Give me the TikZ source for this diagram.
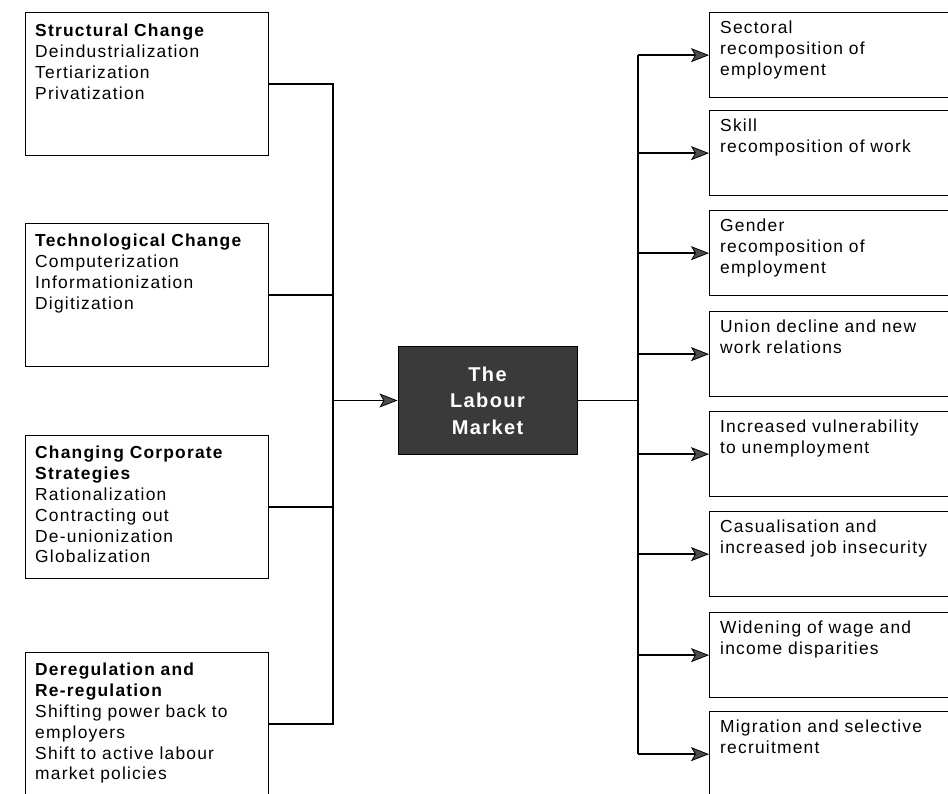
\documentclass[tikz,border=0pt]{standalone}
\usepackage{fontspec}
\setmainfont{Liberation Sans}[LetterSpace=7]
\usetikzlibrary{arrows.meta}
\definecolor{boxgray}{HTML}{3A3A3A}
\tikzset{
  lbox/.style={draw=black, line width=1.3pt, anchor=north west, inner sep=0pt, minimum width=243pt, minimum height=143pt},
  rbox/.style={draw=black, line width=1.3pt, anchor=north west, inner sep=0pt, minimum width=260pt, minimum height=85pt},
  btext/.style={anchor=north west, inner sep=0pt, align=left, text width=235pt, font=\fontsize{17.4pt}{20.8pt}\selectfont},
  cbox/.style={fill=boxgray, draw=black, line width=1pt, minimum width=179pt, minimum height=107pt, inner sep=0pt, align=center, text=white, font=\fontsize{20pt}{26.5pt}\selectfont\bfseries},
  conn/.style={line width=1.6pt},
  arr/.style={line width=1.6pt, -{Stealth[length=18pt, width=14pt, inset=4pt, line width=0.8pt, fill=black!70]}}
}
\begin{document}
\begin{tikzpicture}[x=1pt,y=1pt]
\useasboundingbox (0,0) rectangle (948,-794);
\clip (0,0) rectangle (948,-794);
% left boxes
\node[lbox] (s1) at (25,-12) {};
\node[btext] (s1t) at (35,-24) {\textbf{Structural Change}\\Deindustrialization\\Tertiarization\\Privatization};
\node[lbox] (s2) at (25,-223) {};
\node[btext] (s2t) at (35,-234) {\textbf{Technological Change}\\Computerization\\Informationization\\Digitization};
\node[lbox] (s3) at (25,-435) {};
\node[btext] (s3t) at (35,-446) {\textbf{Changing Corporate}\\\textbf{Strategies}\\Rationalization\\Contracting out\\De-unionization\\Globalization};
\node[lbox] (s4) at (25,-652) {};
\node[btext] (s4t) at (35,-663) {\textbf{Deregulation and}\\\textbf{Re-regulation}\\Shifting power back to\\employers\\Shift to active labour\\market policies};
% centre
\node[cbox] (lm) at (487.5,-400.5) {The\\Labour\\Market};
% right boxes
\node[rbox] (r1) at (709,-12) {};
\node[btext] (r1t) at (720,-21) {Sectoral\\recomposition of\\employment};
\node[rbox] (r2) at (709,-110) {};
\node[btext] (r2t) at (720,-119) {Skill\\recomposition of work};
\node[rbox] (r3) at (709,-210) {};
\node[btext] (r3t) at (720,-219) {Gender\\recomposition of\\employment};
\node[rbox] (r4) at (709,-311) {};
\node[btext] (r4t) at (720,-320) {Union decline and new\\work relations};
\node[rbox] (r5) at (709,-411) {};
\node[btext] (r5t) at (720,-420) {Increased vulnerability\\to unemployment};
\node[rbox] (r6) at (709,-511) {};
\node[btext] (r6t) at (720,-520) {Casualisation and\\increased job insecurity};
\node[rbox] (r7) at (709,-612) {};
\node[btext] (r7t) at (720,-621) {Widening of wage and\\income disparities};
\node[rbox] (r8) at (709,-711) {};
\node[btext] (r8t) at (720,-720) {Migration and selective\\recruitment};
% trunks
\coordinate (lt) at (333,0);
\coordinate (rt) at (638,0);
\draw[conn] (s1.east) -- (s1.east -| lt) -- (s4.east -| lt) -- (s4.east);
\draw[conn] (s2.east) -- (s2.east -| lt);
\draw[conn] (s3.east) -- (s3.east -| lt);
\draw[arr] (lm.west -| lt) -- (lm.west);
\draw[conn] (lm.east) -- (lm.east -| rt);
\draw[conn] (r1.west -| rt) -- (r8.west -| rt);
\foreach \i in {1,...,8} {
  \draw[arr] (r\i.west -| rt) -- (r\i.west);
}
\end{tikzpicture}
\end{document}
